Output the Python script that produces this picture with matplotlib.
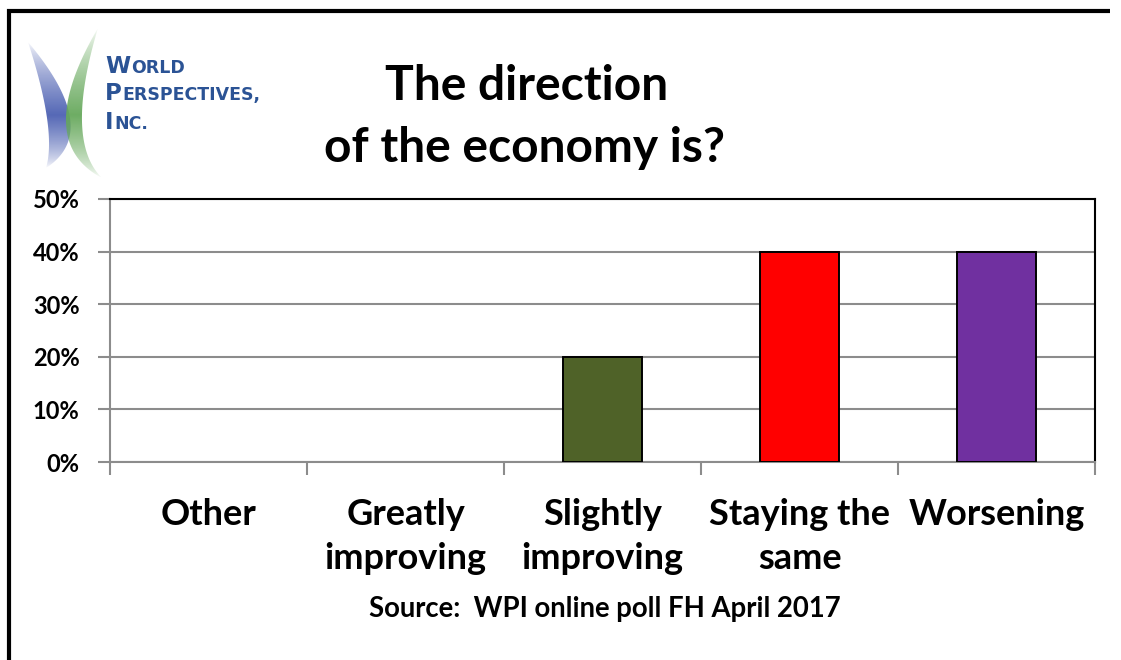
import numpy as np
import matplotlib
matplotlib.use("Agg")
import matplotlib.pyplot as plt
from matplotlib.path import Path
from matplotlib.patches import PathPatch

# Poll results
categories = ["Other", "Greatly\nimproving", "Slightly\nimproving",
              "Staying the\nsame", "Worsening"]
values = [0, 0, 20, 40, 40]
bar_colors = ["#4F6228", "#4F6228", "#4F6228", "#FF0000", "#7030A0"]
y_ticks = [0, 10, 20, 30, 40, 50]
y_labels = ["0%", "10%", "20%", "30%", "40%", "50%"]
title_lines = ["The direction", "of the economy is?"]
source_text = "Source:  WPI online poll FH April 2017"

FONT = "Lato"
plt.rcParams["font.family"] = [FONT, "DejaVu Sans"]
plt.rcParams["font.weight"] = "bold"

W, H = 1121, 660
fig = plt.figure(figsize=(W / 100, H / 100), dpi=100)
fig.patch.set_facecolor("white")


def fx(px):
    return px / W


def fy(py):
    return 1 - py / H


# Chart area
left, right, top, bottom = 110, 1095, 199, 462
ax = fig.add_axes([fx(left), fy(bottom), fx(right - left), (bottom - top) / H])
x = np.arange(len(categories))
edge_widths = [1.4 if v > 0 else 0 for v in values]
ax.bar(x, values, width=0.4, color=bar_colors, edgecolor="black",
       linewidth=edge_widths, zorder=3)
ax.set_xlim(-0.5, len(categories) - 0.5)
ax.set_ylim(0, 50)
ax.tick_params(axis="x", length=9, width=1.5, color="#8C8C8C", direction="out")
ax.tick_params(axis="y", length=9, width=1.5, color="#8C8C8C", direction="out",
               pad=13, labelsize=17)
ax.set_yticks(y_ticks, labels=y_labels)
ax.yaxis.grid(True, color="#8C8C8C", linewidth=1.5, zorder=0)
ax.set_axisbelow(True)

# Category boundaries carry the x tick marks
ax.set_xticks(np.arange(-0.5, len(categories), 1.0))
ax.set_xticklabels([])

for side in ("left", "bottom"):
    ax.spines[side].set_color("#8C8C8C")
    ax.spines[side].set_linewidth(1.5)
for side in ("top", "right"):
    ax.spines[side].set_color("black")
    ax.spines[side].set_linewidth(1.5)

# Category names below the axis
for xi, name in zip(x, categories):
    ax.text(xi, -0.135, name, transform=ax.get_xaxis_transform(),
            ha="center", va="top", fontsize=26, fontweight="bold",
            linespacing=1.42)

# Overlay in pixel coordinates for the frame, title, logo and source line
ov = fig.add_axes([0, 0, 1, 1], zorder=-1)
ov.set_xlim(0, W)
ov.set_ylim(H, 0)
ov.axis("off")

ov.plot([9, 9, 1110], [H, 11, 11], color="black", linewidth=3,
        solid_capstyle="butt", solid_joinstyle="miter")

ov.text(527, 100, title_lines[0], ha="center", va="baseline", fontsize=34.5,
        fontweight="bold")
ov.text(525, 162, title_lines[1], ha="center", va="baseline", fontsize=34.5,
        fontweight="bold")

ov.text(605, 617, source_text, ha="center", va="baseline", fontsize=19.8,
        fontweight="bold")


# Logo: two facing crescents with faded tips
def crescent(x_top, y_top, x_bot, y_bot, x_outer, x_inner, y_mid, n=80):
    t = np.linspace(0, 1, n)
    y_ctrl = 2 * y_mid - (y_top + y_bot) / 2
    ys = (1 - t) ** 2 * y_top + 2 * (1 - t) * t * y_ctrl + t ** 2 * y_bot

    def arc(xm):
        ctrl = 2 * xm - (x_top + x_bot) / 2
        return (1 - t) ** 2 * x_top + 2 * (1 - t) * t * ctrl + t ** 2 * x_bot

    xo = arc(x_outer)
    xi = arc(x_inner)
    verts = np.vstack([np.column_stack([xo, ys]),
                       np.column_stack([xi[::-1], ys[::-1]])])
    return Path(verts, closed=True)


def gradient_fill(path, rgb, y0, y1, ymid):
    patch = PathPatch(path, facecolor="none", edgecolor="none")
    ov.add_patch(patch)
    yy = np.linspace(y0, y1, 200)
    half = np.where(yy < ymid, ymid - y0, y1 - ymid)
    a = np.clip(1 - np.abs(yy - ymid) / half, 0, 1) ** 0.7
    img = np.zeros((200, 1, 4))
    img[:, 0, :3] = rgb
    img[:, 0, 3] = a * 0.95
    im = ov.imshow(img, extent=(0, 140, y1, y0), aspect="auto",
                   interpolation="bilinear", zorder=2)
    im.set_clip_path(patch)


blue = crescent(28, 42, 46, 168, 70, 47, 118)
gradient_fill(blue, (0.30, 0.38, 0.70), 42, 168, 115)
green = crescent(98, 28, 102, 178, 66, 82, 122)
gradient_fill(green, (0.40, 0.66, 0.36), 28, 178, 115)
ov.set_xlim(0, W)
ov.set_ylim(H, 0)

logo_blue = "#2B5395"
logo_lines = [("W", "ORLD", 73), ("P", "ERSPECTIVES,", 100), ("I", "NC.", 129)]
fig.canvas.draw()
renderer = fig.canvas.get_renderer()
for big, small, base in logo_lines:
    t1 = ov.text(105, base, big, ha="left", va="baseline", fontsize=16.5,
                 fontweight="bold", color=logo_blue, fontfamily="DejaVu Sans")
    bb = t1.get_window_extent(renderer)
    ov.text(bb.x1 + 0.5, base, small, ha="left", va="baseline", fontsize=12.5,
            fontweight="bold", color=logo_blue, fontfamily="DejaVu Sans")

fig.savefig("out.png", dpi=100, facecolor="white")
